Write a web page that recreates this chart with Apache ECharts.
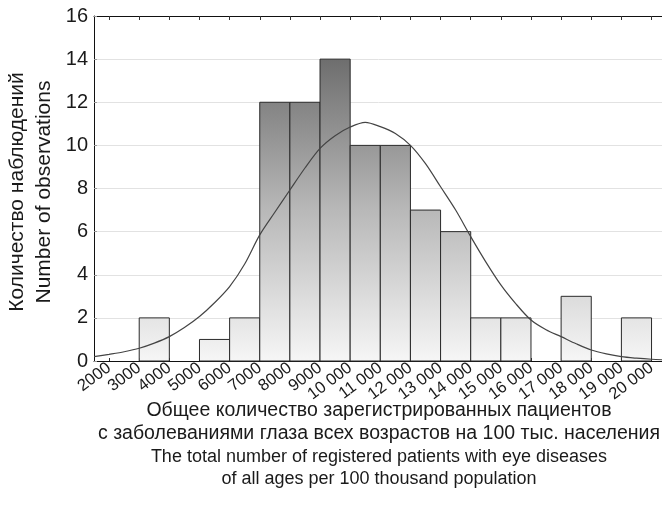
<!DOCTYPE html>
<html>
<head>
<meta charset="utf-8">
<script src="https://cdn.jsdelivr.net/npm/echarts@6/dist/echarts.min.js"></script>
<style>html,body{margin:0;padding:0;background:#fff}#c{width:662px;height:514px}</style>
</head>
<body>
<div id="c"></div>
<script>
var binStart = [2000,3000,4000,5000,6000,7000,8000,9000,10000,11000,12000,13000,14000,15000,16000,17000,18000,19000];
var binWidth = 1000;
var counts = [0,2,0,1,2,12,12,14,10,10,7,6,2,2,0,3,0,2];
var tickValues = [2000,3000,4000,5000,6000,7000,8000,9000,10000,11000,12000,13000,14000,15000,16000,17000,18000,19000,20000];
var tickLabels = ['2000','3000','4000','5000','6000','7000','8000','9000','10 000','11 000','12 000','13 000','14 000','15 000','16 000','17 000','18 000','19 000','20 000'];
var curveX = [1500,2000,2500,3000,3500,4000,4500,5000,5500,6000,6500,7000,7500,8000,8500,9000,9500,10000,10500,11000,11500,12000,12500,13000,13500,14000,14500,15000,15500,16000,16500,17000,17500,18000,18500,19000,19500,20000,20500];
var curveY = [0.2,0.31,0.43,0.59,0.83,1.13,1.55,2.06,2.7,3.45,4.5,5.85,6.9,7.93,8.95,9.86,10.45,10.85,11.07,10.87,10.55,10.0,9.15,8.08,7.0,5.77,4.6,3.53,2.65,1.9,1.45,1.13,0.8,0.51,0.33,0.2,0.13,0.08,0.05];
var yTitle = ['Количество наблюдений', 'Number of observations'];
var xTitle = ['Общее количество зарегистрированных пациентов',
  'с заболеваниями глаза всех возрастов на 100 тыс. населения',
  'The total number of registered patients with eye diseases',
  'of all ages per 100 thousand population'];

var barData = [];
for (var i = 0; i < binStart.length; i++) {
  if (counts[i] > 0) barData.push([binStart[i], binStart[i] + binWidth, counts[i]]);
}
var curveData = curveX.map(function (x, i) { return [x, curveY[i]]; });

var gridTop = 16, gridH = 345;
var grad = {
  type: 'linear', x: 0, y: gridTop + gridH * (2 / 16), x2: 0, y2: gridTop + gridH, global: true,
  colorStops: [{offset: 0, color: '#6e6e6e'}, {offset: 0.5, color: '#b8b8b8'}, {offset: 1, color: '#f6f6f6'}]
};
var font = 'Liberation Sans, Arial, sans-serif';
var xSizes = [19.5, 19.5, 18, 18];
var xLineY = [411, 434, 457, 479];

var graphics = [{
  type: 'text', x: 31, y: 192, rotation: Math.PI / 2,
  style: {text: yTitle.join('\n'), font: '21px ' + font, fill: '#1a1a1a', align: 'center', verticalAlign: 'middle', lineHeight: 27}
}];
xTitle.forEach(function (t, k) {
  graphics.push({type: 'text', x: 379, y: xLineY[k],
    style: {text: t, font: xSizes[k] + 'px ' + font, fill: '#1a1a1a', align: 'center', verticalAlign: 'middle'}});
});

var chart = echarts.init(document.getElementById('c'), null, {renderer: 'canvas'});
chart.setOption({
  animation: false,
  backgroundColor: '#fff',
  grid: {left: 94, top: gridTop, width: 572.6, height: gridH, containLabel: false, outerBoundsMode: 'none'},
  xAxis: [{
    type: 'value', min: 1500, max: 20500, position: 'bottom',
    axisLine: {show: true, lineStyle: {color: '#111', width: 1}},
    axisTick: {show: true, inside: true, length: 3, customValues: tickValues, lineStyle: {color: '#333'}},
    axisLabel: {
      customValues: tickValues, rotate: 37, margin: 5, fontSize: 16.5, color: '#1a1a1a', fontFamily: font,
      hideOverlap: false, showMinLabel: true, showMaxLabel: true,
      formatter: function (v) { var k = tickValues.indexOf(v); return k >= 0 ? tickLabels[k] : ''; }
    },
    splitLine: {show: false}
  }, {
    type: 'value', min: 1500, max: 20500, position: 'top',
    axisLine: {show: true, lineStyle: {color: '#111', width: 1}},
    axisTick: {show: true, inside: true, length: 4, customValues: tickValues, lineStyle: {color: '#333'}},
    axisLabel: {show: false},
    splitLine: {show: false}
  }],
  yAxis: {
    type: 'value', min: 0, max: 16, interval: 2,
    axisLine: {show: true, lineStyle: {color: '#111', width: 1}},
    axisTick: {show: true, inside: true, length: 3, lineStyle: {color: '#999'}},
    axisLabel: {fontSize: 20, color: '#1a1a1a', margin: 6, fontFamily: font},
    splitLine: {show: true, lineStyle: {color: '#e2e2e2', width: 1}}
  },
  series: [{
    type: 'custom', xAxisIndex: 0, data: barData, z: 2,
    renderItem: function (params, api) {
      var p0 = api.coord([api.value(0), api.value(2)]);
      var p1 = api.coord([api.value(1), 0]);
      return {type: 'rect', shape: {x: p0[0], y: p0[1], width: p1[0] - p0[0], height: p1[1] - p0[1]},
        style: {fill: grad, stroke: '#2a2a2a', lineWidth: 1}};
    }
  }, {
    type: 'line', xAxisIndex: 0, data: curveData, smooth: 0.3, showSymbol: false, z: 3,
    lineStyle: {color: '#444', width: 1.2}
  }],
  graphic: graphics
});
</script>
</body>
</html>
